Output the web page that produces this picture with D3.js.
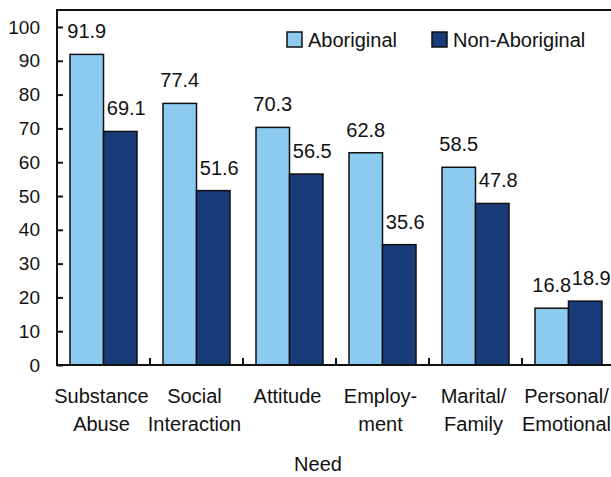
<!DOCTYPE html>
<html>
<head>
<meta charset="utf-8">
<script src="https://cdn.jsdelivr.net/npm/d3@7"></script>
<style>
  body { margin: 0; background: #fff; }
  svg { display: block; font-family: "Liberation Sans", Arial, sans-serif; }
</style>
</head>
<body>
<svg id="chart" width="611" height="477"></svg>
<script>
const categories = [
  ["Substance", "Abuse"],
  ["Social", "Interaction"],
  ["Attitude"],
  ["Employ-", "ment"],
  ["Marital/", "Family"],
  ["Personal/", "Emotional"]
];
const seriesNames = ["Aboriginal", "Non-Aboriginal"];
const aboriginal = [91.9, 77.4, 70.3, 62.8, 58.5, 16.8];
const nonAboriginal = [69.1, 51.6, 56.5, 35.6, 47.8, 18.9];
const yTicks = [0, 10, 20, 30, 40, 50, 60, 70, 80, 90, 100];
const xTitle = "Need";

const colors = ["#8dcaf0", "#183c79"];
const svg = d3.select("#chart");

const mLeft = 57, mRight = 615, mBottom = 365, mTop = 10;
const keys = categories.map((c, i) => i);
const x0 = d3.scaleBand().domain(keys).range([mLeft, mRight]).padding(0);
const x1 = d3.scaleBand().domain(seriesNames).range([13, x0.bandwidth() - 13]).padding(0);
const y = d3.scaleLinear().domain([0, 100]).range([mBottom, 27]);

const data = keys.map(i => ({
  i,
  values: [
    { s: seriesNames[0], v: aboriginal[i] },
    { s: seriesNames[1], v: nonAboriginal[i] }
  ]
}));

// bars
const g = svg.append("g");
const groups = g.selectAll(".grp").data(data).join("g")
  .attr("transform", d => `translate(${x0(d.i)},0)`);
groups.selectAll("rect").data(d => d.values).join("rect")
  .attr("x", d => x1(d.s))
  .attr("y", d => y(d.v))
  .attr("width", x1.bandwidth())
  .attr("height", d => y(0) - y(d.v))
  .attr("fill", (d, j) => colors[j])
  .attr("stroke", "#111")
  .attr("stroke-width", 1.5);
groups.selectAll("text.val").data(d => d.values).join("text")
  .attr("class", "val")
  .attr("x", (d, j) => x1(d.s) + x1.bandwidth() / 2 + (j === 1 ? 6 : 0))
  .attr("y", d => y(d.v) - 16)
  .attr("text-anchor", "middle")
  .attr("font-size", 20)
  .attr("fill", "#111")
  .text(d => d.v.toFixed(1));

// y axis
const yAxis = d3.axisLeft(y).tickValues(yTicks).tickSizeInner(-6).tickSizeOuter(0).tickPadding(17);
const ya = svg.append("g").attr("transform", `translate(${mLeft},0)`).call(yAxis);
ya.select(".domain").remove();
ya.selectAll(".tick line").attr("stroke", "#111").attr("stroke-width", 2);
ya.selectAll(".tick text").attr("font-size", 19).attr("fill", "#111")
  .attr("font-family", "Liberation Sans, Arial, sans-serif");

// frame
svg.append("path")
  .attr("d", `M${mRight},${mTop}H${mLeft}V${mBottom}H${mRight}`)
  .attr("fill", "none").attr("stroke", "#111").attr("stroke-width", 2);

// category separators
svg.selectAll("line.sep").data(keys.slice(1)).join("line")
  .attr("class", "sep")
  .attr("x1", d => x0(d)).attr("x2", d => x0(d))
  .attr("y1", mBottom).attr("y2", mBottom - 7)
  .attr("stroke", "#111").attr("stroke-width", 2);

// category labels
const cl = svg.selectAll("text.cat").data(data).join("text")
  .attr("class", "cat")
  .attr("text-anchor", "middle")
  .attr("font-size", 20)
  .attr("fill", "#111");
cl.selectAll("tspan").data(d => categories[d.i].map(t => ({ t, i: d.i }))).join("tspan")
  .attr("x", d => x0(d.i) + x0.bandwidth() / 2 - 2)
  .attr("y", (d, k) => 403 + k * 28)
  .text(d => d.t);

// x title
svg.append("text").attr("x", 318).attr("y", 471).attr("text-anchor", "middle")
  .attr("font-size", 20).attr("fill", "#111").text(xTitle);

// legend
const legX = [287, 432];
const leg = svg.selectAll("g.leg").data(seriesNames).join("g").attr("class", "leg")
  .attr("transform", (d, i) => `translate(${legX[i]},32)`);
leg.append("rect").attr("width", 15).attr("height", 15)
  .attr("fill", (d, i) => colors[i]).attr("stroke", "#111").attr("stroke-width", 1.5);
leg.append("text").attr("x", 21).attr("y", 15).attr("font-size", 20).attr("fill", "#111").text(d => d);
</script>
</body>
</html>
